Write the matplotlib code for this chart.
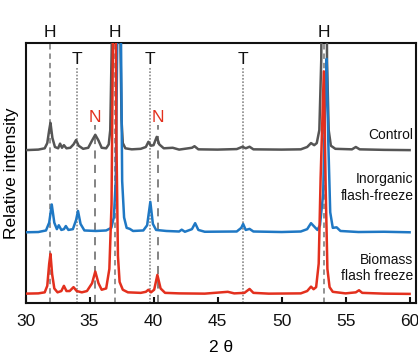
import matplotlib
matplotlib.use("Agg")
import matplotlib.pyplot as plt
import numpy as np

# ---------------- data ----------------
control_x = [30.0, 31.0, 31.5, 31.7, 31.85, 31.95, 32.1, 32.3, 32.55, 32.7, 32.85, 33.0, 33.2, 33.5,
             33.75, 33.95, 34.15, 34.5, 34.9, 35.2, 35.45, 35.7, 35.95, 36.3, 36.5, 36.62, 36.75,
             36.95, 37.25, 37.42, 37.5, 37.6, 37.8, 38.3, 39.0, 39.4, 39.6, 39.8, 40.0, 40.25, 40.45,
             40.8, 41.5, 42.0, 43.0, 43.2, 43.5, 45.0, 46.5, 46.95, 47.2, 47.5, 47.8, 50.0, 51.5,
             52.0, 52.3, 52.55, 52.75, 52.95, 53.1, 53.35, 53.55, 53.68, 53.85, 54.2, 55.5, 55.8,
             56.1, 58.0, 60.0]
control_y = [0.3, 0.5, 1.0, 3.0, 8.0, 10.8, 5.0, 1.5, 1.0, 2.8, 1.2, 2.2, 1.0, 1.2,
             2.5, 4.2, 2.0, 0.8, 1.2, 4.0, 6.2, 4.0, 1.2, 1.0, 2.5, 8.0, 45.0,
             300.0, 120.0, 40.0, 12.0, 3.0, 1.0, 0.6, 0.8, 1.5, 3.5, 2.0, 2.2, 5.4, 2.5,
             1.0, 1.2, 0.5, 1.2, 1.8, 0.6, 0.5, 0.7, 1.6, 1.0, 1.6, 0.6, 0.5, 0.6,
             1.5, 3.0, 2.2, 3.0, 8.0, 35.0, 250.0, 35.0, 8.0, 2.0, 0.8, 0.6, 1.5,
             0.6, 0.4, 0.3]

inorganic_x = [30.0, 31.0, 31.6, 31.85, 32.05, 32.25, 32.45, 32.6, 32.8, 33.0, 33.15, 33.35, 33.7,
               33.95, 34.1, 34.3, 34.6, 35.5, 36.3, 36.7, 36.9, 37.05, 37.18, 37.3, 37.45, 37.55,
               37.7, 37.9, 38.15, 38.4, 39.2, 39.5, 39.75, 39.95, 40.2, 41.0, 42.0, 42.2, 42.45,
               43.0, 43.25, 43.5, 44.0, 46.5, 46.85, 47.0, 47.2, 47.5, 47.8, 50.0, 51.5, 52.0,
               52.3, 52.55, 52.8, 53.0, 53.25, 53.4, 53.52, 53.65, 53.8, 54.0, 54.3, 54.6, 56.0,
               58.0, 60.0]
inorganic_y = [0.3, 0.4, 1.0, 4.0, 11.0, 4.0, 1.5, 3.0, 1.2, 1.5, 2.7, 1.2, 1.5,
               5.0, 8.5, 3.5, 1.0, 0.8, 1.0, 2.0, 6.0, 20.0, 80.0, 140.0, 80.0, 20.0,
               6.0, 2.0, 1.6, 0.8, 1.0, 3.0, 12.0, 3.5, 1.2, 0.8, 0.6, 1.3, 0.5,
               1.5, 3.8, 1.2, 0.5, 0.6, 2.0, 3.5, 1.2, 1.6, 0.6, 0.4, 0.6, 1.5,
               3.8, 2.5, 1.2, 3.0, 15.0, 50.0, 67.0, 35.0, 8.0, 2.0, 2.2, 0.8, 0.4,
               0.5, 0.3]

biomass_x = [30.0, 31.0, 31.5, 31.7, 31.85, 31.95, 32.08, 32.25, 32.5, 32.8, 33.0, 33.2, 33.45,
             33.75, 34.0, 34.4, 34.8, 35.2, 35.45, 35.7, 35.95, 36.3, 36.55, 36.72, 36.85, 36.97,
             37.1, 37.22, 37.35, 37.6, 38.0, 39.0, 39.4, 39.6, 39.8, 40.05, 40.3, 40.55, 40.9,
             42.0, 44.0, 45.8, 46.3, 47.1, 47.5, 47.8, 49.0, 51.5, 52.0, 52.3, 52.5, 52.7,
             52.9, 53.05, 53.3, 53.45, 53.58, 53.75, 54.0, 55.0, 55.8, 56.05, 56.3, 58.0, 60.0]
biomass_y = [0.5, 0.6, 1.0, 3.5, 12.0, 15.8, 8.0, 2.5, 1.0, 1.5, 3.5, 1.5, 1.5,
             3.0, 1.5, 1.0, 1.5, 4.5, 9.0, 4.5, 2.0, 2.5, 10.0, 35.0, 110.0, 180.0,
             60.0, 15.0, 5.0, 2.0, 1.0, 0.8, 1.2, 2.0, 1.0, 2.0, 7.7, 2.5, 0.8,
             0.6, 0.5, 1.2, 0.6, 0.8, 2.3, 0.8, 0.5, 0.6, 1.5, 3.2, 2.2, 3.0,
             12.0, 45.0, 86.0, 40.0, 10.0, 3.0, 1.2, 0.6, 1.0, 1.8, 0.8, 0.5, 0.4]

series_labels = ["Control", "Inorganic\nflash-freeze", "Biomass\nflash freeze"]

H_positions = [31.93, 37.0, 53.28]
T_positions = [34.03, 39.71, 46.97]
N_positions = [35.45, 40.34]

x_ticks = [30, 35, 40, 45, 50, 55, 60]

# ---------------- styling / layout ----------------
plt.rcParams['font.family'] = ['Liberation Sans', 'DejaVu Sans']

W, H = 418, 362
fig = plt.figure(figsize=(W / 100, H / 100), dpi=100)
ax_l, ax_r, ax_t, ax_b = 25.5, 416, 43, 303
ax = fig.add_axes([ax_l / W, 1 - ax_b / H, (ax_r - ax_l) / W, (ax_b - ax_t) / H])
ax.set_xlim(30, 60.5)
ax.set_ylim(0, 100)

offsets = [58.5, 26.9, 3.1]
colors = ['#555555', '#1f78c4', '#e3301e']
series = [(control_x, control_y), (inorganic_x, inorganic_y), (biomass_x, biomass_y)]

# reference lines
for xp in H_positions:
    ax.axvline(xp, ymin=0, ymax=1, color='#8a8a8a', lw=1.3, ls=(0, (3, 2.2)), zorder=1)
    ax.text(xp, 1.042, 'H', transform=ax.get_xaxis_transform(), ha='center', va='center',
            fontsize=12.5, color='#111111', clip_on=False)
for xp in T_positions:
    ax.axvline(xp, ymin=0, ymax=0.905, color='#8a8a8a', lw=1.2, ls=(0, (1, 1)), zorder=1)
    ax.text(xp, 0.935, 'T', transform=ax.get_xaxis_transform(), ha='center', va='center',
            fontsize=12.5, color='#111111')
for xp in N_positions:
    ax.axvline(xp, ymin=0, ymax=0.685, color='#7a7a7a', lw=1.3, ls=(0, (4.5, 3.5)), zorder=1)
    ax.text(xp, 0.715, 'N', transform=ax.get_xaxis_transform(), ha='center', va='center',
            fontsize=12.5, color='#e3301e')

for (xs, ys), off, c in zip(series, offsets, colors):
    ax.plot(xs, np.asarray(ys) + off, color=c, lw=1.8, zorder=3, solid_joinstyle='round')

# curve labels
ax.text(60.3, 64.6, series_labels[0], ha='right', va='center', fontsize=10, color='#111111')
ax.text(60.3, 44.5, series_labels[1], ha='right', va='center', fontsize=10, color='#111111',
        linespacing=1.25)
ax.text(60.3, 13.5, series_labels[2], ha='right', va='center', fontsize=10, color='#111111',
        linespacing=1.25)

for s in ax.spines.values():
    s.set_linewidth(1.5)
    s.set_color('#111111')

ax.set_xticks(x_ticks)
ax.set_xticklabels([str(t) for t in x_ticks], fontsize=12.5)
ax.tick_params(axis='x', direction='in', length=4, width=1.5, pad=8, colors='#111111')
ax.tick_params(axis='y', left=False, labelleft=False)

ax.set_xlabel('2 θ', fontsize=12.5, labelpad=8)
ax.set_ylabel('Relative intensity', fontsize=12.5, labelpad=5)

fig.savefig('out.png', dpi=100)
